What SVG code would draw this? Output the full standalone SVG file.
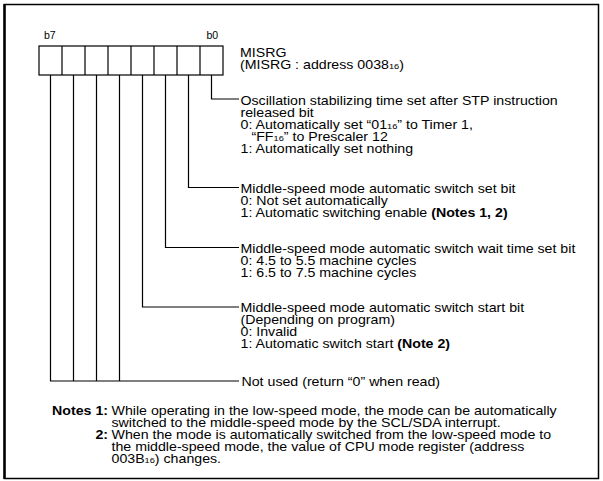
<svg xmlns="http://www.w3.org/2000/svg" width="603" height="481" viewBox="0 0 603 481">
<style>
text{font-family:"Liberation Sans",Arial,sans-serif;font-size:12px;fill:#000}
.sm{font-size:10.5px}
.sub{font-size:7.8px}
.b{font-weight:bold}
.ln{stroke:#000;stroke-width:1.2;fill:none}
.cell{stroke:#000;stroke-width:1.2;fill:#fff}
</style>
<rect x="4.5" y="4.5" width="594" height="474" fill="#fff" stroke="#000" stroke-width="1.5"/>
<line x1="4.5" y1="4" x2="4.5" y2="479" stroke="#000" stroke-width="2.5"/>

<g id="register">
  <rect class="cell" x="39" y="46" width="184" height="29"/>
  <path class="ln" d="M62 46V75M85 46V75M108 46V75M131 46V75M154 46V75M177 46V75M200 46V75"/>
  <text class="sm" x="44" y="38.5">b7</text>
  <text class="sm" x="206.5" y="38.5">b0</text>
  <g transform="translate(240 0) scale(1.183 1)">
    <text x="0" y="57.5">MISRG</text>
    <text x="0" y="69.5">(MISRG : address 0038<tspan class="sub">16</tspan>)</text>
  </g>
</g>

<g id="connectors">
  <path class="ln" d="M211.5 75V99H239"/>
  <path class="ln" d="M188.5 75V187.5H239"/>
  <path class="ln" d="M165.5 75V247.5H239"/>
  <path class="ln" d="M142.5 75V307H239"/>
  <path class="ln" d="M119.5 75V381M96.5 75V381M73.5 75V381M50.5 75V381H239"/>
</g>

<g id="bit0" transform="translate(240.5 0) scale(1.183 1)">
  <text x="0" y="105">Oscillation stabilizing time set after STP instruction</text>
  <text x="0" y="117">released bit</text>
  <text x="0" y="129">0: Automatically set “01<tspan class="sub">16</tspan>” to Timer 1,</text>
  <text x="9.3" y="141">“FF<tspan class="sub">16</tspan>” to Prescaler 12</text>
  <text x="0" y="153">1: Automatically set nothing</text>
</g>

<g id="bit1" transform="translate(240.5 0) scale(1.183 1)">
  <text x="0" y="193">Middle-speed mode automatic switch set bit</text>
  <text x="0" y="205">0: Not set automatically</text>
  <text x="0" y="217">1: Automatic switching enable <tspan class="b">(Notes 1, 2)</tspan></text>
</g>

<g id="bit2" transform="translate(240.5 0) scale(1.183 1)">
  <text x="0" y="253">Middle-speed mode automatic switch wait time set bit</text>
  <text x="0" y="265">0: 4.5 to 5.5 machine cycles</text>
  <text x="0" y="277">1: 6.5 to 7.5 machine cycles</text>
</g>

<g id="bit3" transform="translate(240.5 0) scale(1.183 1)">
  <text x="0" y="312.5">Middle-speed mode automatic switch start bit</text>
  <text x="0" y="324.5">(Depending on program)</text>
  <text x="0" y="336.5">0: Invalid</text>
  <text x="0" y="348.5">1: Automatic switch start <tspan class="b">(Note 2)</tspan></text>
</g>

<g id="bits7-4" transform="translate(241.5 0) scale(1.183 1)">
  <text x="0" y="386.5">Not used (return “0” when read)</text>
</g>

<g id="notes">
  <g transform="translate(108 0) scale(1.183 1)">
    <text class="b" x="0" y="415.5" text-anchor="end">Notes 1:</text>
    <text class="b" x="0" y="439.5" text-anchor="end">2:</text>
  </g>
  <g transform="translate(111.5 0) scale(1.183 1)">
    <text x="0" y="415.5">While operating in the low-speed mode, the mode can be automatically</text>
    <text x="0" y="427.5">switched to the middle-speed mode by the SCL/SDA interrupt.</text>
    <text x="0" y="439.5">When the mode is automatically switched from the low-speed mode to</text>
    <text x="0" y="451.5">the middle-speed mode, the value of CPU mode register (address</text>
    <text x="0" y="463">003B<tspan class="sub">16</tspan>) changes.</text>
  </g>
</g>
</svg>
